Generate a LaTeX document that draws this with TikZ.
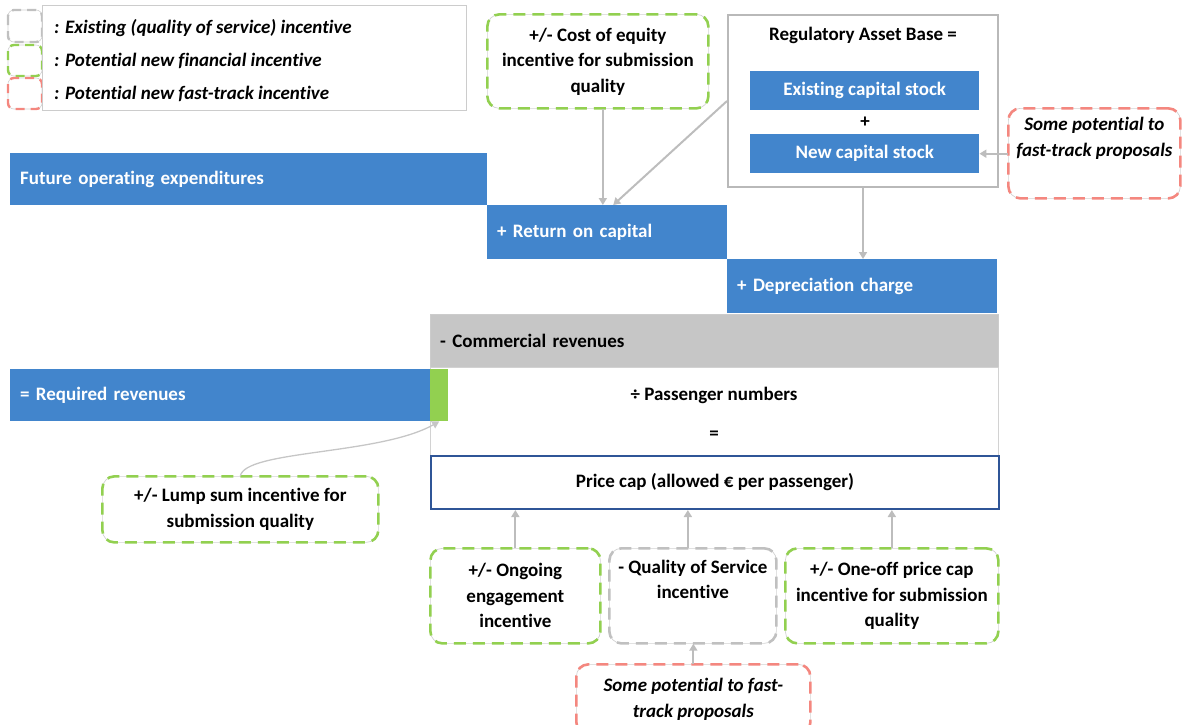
\documentclass[tikz,border=0pt]{standalone}
\usepackage{fontspec}
\setmainfont{Carlito}[Ligatures=NoCommon]
\usetikzlibrary{arrows.meta,calc}
\definecolor{myblue}{HTML}{4285CC}
\definecolor{mygreen}{HTML}{92D050}
\definecolor{myred}{HTML}{F4877F}
\definecolor{mygrey}{HTML}{C6C6C6}
\definecolor{dashgrey}{HTML}{C0C0C0}
\definecolor{linegrey}{HTML}{BDBDBD}
\definecolor{darkblue}{HTML}{2F5597}
\newcommand{\fs}{\fontsize{19}{25.5}\selectfont}
\tikzset{
  base/.style={inner sep=0pt, anchor=north west, font=\fs\bfseries},
  bar/.style={base, fill=myblue, text=white, align=left, inner xsep=10pt},
  plain/.style={font=\fs\bfseries, inner sep=0pt},
  inc/.style={base, rounded corners=12pt, draw=gray!35, line width=0.7pt, fill=white, align=center,
     postaction={draw=#1, line width=2.6pt, dash pattern=on 12pt off 7pt}},
  conn/.style={draw=linegrey, line width=2pt, -{Triangle[width=8pt,length=7pt]}},
  legicon/.style={rounded corners=6pt, draw=gray!35, line width=0.6pt,
     postaction={draw=#1, line width=2.4pt, dash pattern=on 9pt off 6pt}},
  legtext/.style={anchor=west, inner sep=0pt, font=\fs\bfseries\itshape}
}
\begin{document}
\begin{tikzpicture}[x=1pt,y=-1pt]
\useasboundingbox (0,0) rectangle (1182,724);
\clip (0,0) rectangle (1182,724);
% legend
\draw[legicon=dashgrey] (8,10) rectangle (42,42);
\draw[legicon=mygreen] (8,45) rectangle (42,76);
\draw[legicon=myred] (8,78) rectangle (42,109);
\node[base, draw=gray!40, fill=white, minimum width=424pt, minimum height=105pt] (legend) at (42,5) {};
\node[legtext] (l1) at (54,28) {: Existing (quality of service) incentive};
\node[legtext] (l2) at (54,61) {: Potential new financial incentive};
\node[legtext] (l3) at (54,94) {: Potential new fast-track incentive};
% top incentive boxes
\node[inc=mygreen, minimum width=221pt, minimum height=94pt] (coe) at (487,14) {+/- Cost of equity\\incentive for submission\\quality};
\node[base, draw=gray!55, line width=2pt, fill=white, minimum width=270pt, minimum height=172pt] (rab) at (727,14) {};
\node[plain] (rabt) at (863,35) {Regulatory Asset Base =};
\node[base, fill=myblue, text=white, minimum width=229pt, minimum height=39pt] (ecs) at (750,71) {Existing capital stock};
\node[plain] (plus) at (865,122) {+};
\node[base, fill=myblue, text=white, minimum width=229pt, minimum height=39pt] (ncs) at (750,134) {New capital stock};
\node[inc=myred, minimum width=172pt, minimum height=90pt, font=\fs\bfseries\itshape] (ft1) at (1008,108) {Some potential to\\fast-track proposals\\\strut};
% bars
\node[bar, minimum width=477pt, minimum height=52pt, text width=457pt] (fope) at (10,153) {Future operating expenditures};
\node[bar, minimum width=240pt, minimum height=54pt, text width=220pt] (roc) at (487,205) {+ Return on capital};
\node[bar, minimum width=270pt, minimum height=54pt, text width=250pt] (dep) at (727,259) {+ Depreciation charge};
\node[base, fill=mygrey, draw=gray!40, align=left, inner xsep=10pt, text width=548pt, minimum width=568pt, minimum height=53pt] (com) at (430,314) {- Commercial revenues};
\node[base, draw=gray!35, fill=white, minimum width=568pt, minimum height=88pt] (pass) at (430,367) {};
\node[plain] (passt) at (714,395) {÷ Passenger numbers};
\node[plain] (eq) at (714,435) {=};
\node[bar, minimum width=420pt, minimum height=52pt, text width=400pt] (req) at (10,369) {= Required revenues};
\node[base, fill=mygreen, minimum width=18pt, minimum height=52pt] (gbar) at (430,369) {};
\node[base, draw=darkblue, line width=2pt, fill=white, minimum width=568pt, minimum height=53pt] (pcap) at (430,455) {Price cap (allowed € per passenger)};
% lower incentive boxes
\node[inc=mygreen, minimum width=276pt, minimum height=66pt] (lump) at (102,476) {+/- Lump sum incentive for\\submission quality};
\node[inc=mygreen, minimum width=170pt, minimum height=95pt] (ong) at (430,548) {+/- Ongoing\\engagement\\incentive};
\node[inc=dashgrey, minimum width=167pt, minimum height=95pt] (qos) at (609,548) {- Quality of Service\\incentive\\\strut};
\node[inc=mygreen, minimum width=213pt, minimum height=95pt] (one) at (785,548) {+/- One-off price cap\\incentive for submission\\quality};
\node[inc=myred, minimum width=234pt, minimum height=70pt, font=\fs\bfseries\itshape] (ft2) at (576,664) {Some potential to fast-\\track proposals};
% helper coordinates
\coordinate (coeout) at ($(coe.south)+(5,0)$);
\coordinate (rocin) at ($(roc.north)+(6,0)$);
\coordinate (qosout) at ($(qos.north)+(-5,0)$);
% connectors
\draw[conn] (coeout) -- (coeout |- roc.north);
\draw[conn] (rab.west) -- (rocin);
\draw[conn] (rab.south) -- (rab.south |- dep.north);
\draw[conn] (ft1.west |- ncs.east) -- (ncs.east);
\draw[conn, draw=gray!45, line width=1.3pt] (lump.north) .. controls (245,450) and (380,455) .. (gbar.south);
\draw[conn] (ong.north) -- (ong.north |- pcap.south);
\draw[conn] (qosout) -- (qosout |- pcap.south);
\draw[conn] (one.north) -- (one.north |- pcap.south);
\draw[conn] (ft2.north) -- (ft2.north |- qos.south);
\end{tikzpicture}
\end{document}
